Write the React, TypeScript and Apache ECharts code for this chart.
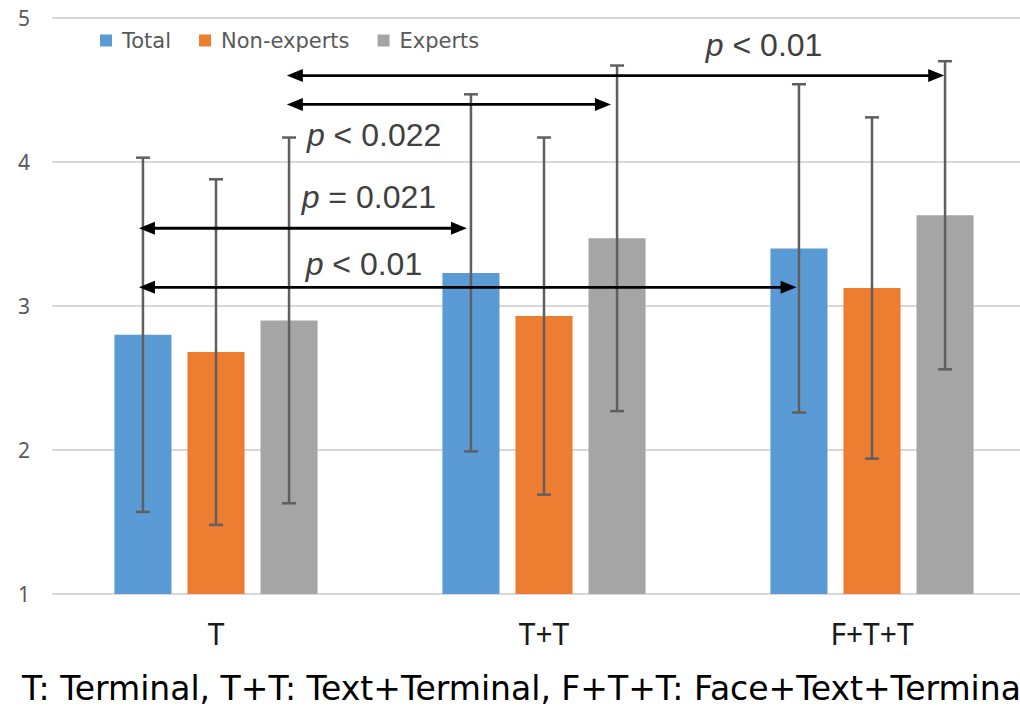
import React, { useEffect, useRef } from "react";
import * as echarts from "echarts";

const categories = ["T", "T+T", "F+T+T"];
const seriesNames = ["Total", "Non-experts", "Experts"];
const totalMeans = [2.8, 3.23, 3.4];
const nonExpertMeans = [2.68, 2.93, 3.125];
const expertMeans = [2.9, 3.47, 3.63];
const totalSD = [1.23, 1.24, 1.14];
const nonExpertSD = [1.2, 1.24, 1.185];
const expertSD = [1.27, 1.2, 1.07];
const colors = ["#5B9BD5", "#ED7D31", "#A5A5A5"];
const yTicks = [1, 2, 3, 4, 5];

// significance arrows: from/to in category units (0..3), y in value units; label anchor likewise
const arrowFrom = [0.265, 0.265, 0.716, 0.716];
const arrowTo = [2.27, 1.265, 1.704, 2.72];
const arrowY = [3.13, 3.54, 4.4, 4.6];
const labelX = [0.951, 0.966, 0.982, 2.171];
const labelY = [3.29, 3.757, 4.19, 4.81];
const labelText = ["< 0.01", "= 0.021", "< 0.022", "< 0.01"];

const caption = "T: Terminal, T+T: Text+Terminal, F+T+T: Face+Text+Terminal";

const BAR_FRAC = 0.174;
const GAP_FRAC = 0.28;

export default function App() {
  const ref = useRef<HTMLDivElement>(null);
  useEffect(() => {
    if (!ref.current) return;
    const chart = echarts.init(ref.current, undefined, { renderer: "svg" });
    const means = [totalMeans, nonExpertMeans, expertMeans];
    const sds = [totalSD, nonExpertSD, expertSD];

    const barSeries = seriesNames.map((name, s) => ({
      name,
      type: "bar",
      data: means[s],
      barWidth: BAR_FRAC * 100 + "%",
      barGap: GAP_FRAC * 100 + "%",
      itemStyle: { color: colors[s] },
      z: 2,
    }));

    const errSeries = seriesNames.map((name, s) => ({
      type: "custom",
      name: "err" + s,
      xAxisIndex: 0,
      yAxisIndex: 0,
      z: 5,
      silent: true,
      data: means[s].map((m, i) => [i, m - sds[s][i], m + sds[s][i]]),
      renderItem: (params: any, api: any) => {
        const ci = api.value(0);
        const lo = api.value(1);
        const hi = api.value(2);
        const band = api.size([1, 0])[0];
        const bw = band * BAR_FRAC;
        const off = (s - 1) * (bw + bw * GAP_FRAC);
        const pTop = api.coord([ci, hi]);
        const pBot = api.coord([ci, lo]);
        const x = pTop[0] + off;
        const cap = 7;
        const st = { stroke: "#5f5f5f", lineWidth: 2.5 };
        return {
          type: "group",
          children: [
            { type: "line", shape: { x1: x, y1: pTop[1], x2: x, y2: pBot[1] }, style: st },
            { type: "line", shape: { x1: x - cap, y1: pTop[1], x2: x + cap, y2: pTop[1] }, style: st },
            { type: "line", shape: { x1: x - cap, y1: pBot[1], x2: x + cap, y2: pBot[1] }, style: st },
          ],
        };
      },
    }));

    const arrowSeries = {
      type: "custom",
      name: "arrows",
      xAxisIndex: 1,
      yAxisIndex: 0,
      z: 6,
      silent: true,
      data: arrowFrom.map((f, i) => [f, arrowTo[i], arrowY[i], labelX[i], labelY[i], i]),
      renderItem: (params: any, api: any) => {
        const p1 = api.coord([api.value(0), api.value(2)]);
        const p2 = api.coord([api.value(1), api.value(2)]);
        const lp = api.coord([api.value(3), api.value(4)]);
        const idx = api.value(5);
        const hl = 16;
        const hh = 6.5;
        const y = p1[1];
        return {
          type: "group",
          children: [
            {
              type: "line",
              shape: { x1: p1[0] + hl - 2, y1: y, x2: p2[0] - hl + 2, y2: y },
              style: { stroke: "#000", lineWidth: 2.8 },
            },
            {
              type: "polygon",
              shape: { points: [[p1[0], y], [p1[0] + hl, y - hh], [p1[0] + hl, y + hh]] },
              style: { fill: "#000" },
            },
            {
              type: "polygon",
              shape: { points: [[p2[0], y], [p2[0] - hl, y - hh], [p2[0] - hl, y + hh]] },
              style: { fill: "#000" },
            },
            {
              type: "text",
              x: lp[0],
              y: lp[1],
              style: {
                text: "{i|p} " + labelText[idx],
                align: "center",
                verticalAlign: "middle",
                fill: "#404040",
                fontSize: 32,
                fontFamily: "Liberation Sans, Arial, sans-serif",
                rich: {
                  i: {
                    fontStyle: "italic",
                    fontSize: 32,
                    fill: "#404040",
                    fontFamily: "Liberation Sans, Arial, sans-serif",
                  },
                },
              },
            },
          ],
        };
      },
    };

    chart.setOption({
      animation: false,
      backgroundColor: "#ffffff",
      legend: {
        data: seriesNames,
        left: 95,
        top: 25,
        itemWidth: 12,
        itemHeight: 12,
        itemGap: 28,
        icon: "rect",
        textStyle: {
          fontSize: 21,
          color: "#595959",
          padding: [0, 0, 0, 5],
          fontFamily: "DejaVu Sans, sans-serif",
        },
      },
      grid: { left: 52, top: 18, width: 984, height: 576 },
      xAxis: [
        {
          type: "category",
          data: categories,
          axisLine: { show: false },
          axisTick: { show: false },
          axisLabel: {
            fontSize: 30,
            color: "#1a1a1a",
            margin: 24,
            fontFamily: "Noto Sans, sans-serif",
          },
        },
        { type: "value", min: 0, max: 3, show: false },
      ],
      yAxis: {
        type: "value",
        min: yTicks[0],
        max: yTicks[yTicks.length - 1],
        interval: 1,
        axisLine: { show: false },
        axisTick: { show: false },
        splitLine: { lineStyle: { color: "#d9d9d9", width: 2 } },
        axisLabel: {
          fontSize: 21,
          color: "#595959",
          margin: 22,
          fontFamily: "Noto Sans, sans-serif",
        },
      },
      graphic: [
        {
          type: "text",
          left: 22,
          top: 672,
          style: {
            text: caption,
            fontSize: 33,
            fill: "#000",
            fontFamily: "DejaVu Sans, sans-serif",
          },
        },
      ],
      series: [...barSeries, ...errSeries, arrowSeries],
    });
    return () => chart.dispose();
  }, []);
  return (
    <div style={{ position: "fixed", left: 0, top: 0, width: 1020, height: 714, overflow: "hidden", background: "#fff" }}>
      <div ref={ref} style={{ width: 1060, height: 714 }} />
    </div>
  );
}
